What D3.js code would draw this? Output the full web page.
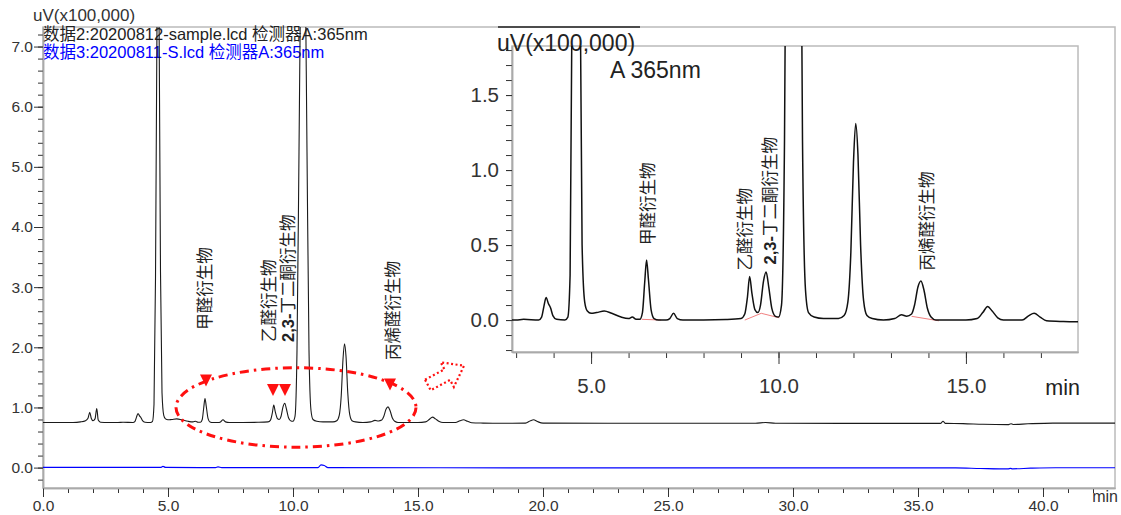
<!DOCTYPE html>
<html>
<head>
<meta charset="utf-8">
<script src="https://cdn.jsdelivr.net/npm/d3@7"></script>
<style>
  body { margin: 0; background: #fff; }
  svg { display: block; }
</style>
</head>
<body>
<div id="chart"></div>
<script>
// ---- data ----
// black trace (sample): [retention time (min), signal above baseline (x100,000 uV)]
const sampleBaseline = 0.75;
const sampleTrace = [
  [0.0, 0.0], [1.2, 0.0], [1.5, 0.01], [1.7, 0.03], [1.8, 0.07], [1.87, 0.17], [1.93, 0.07],
  [2.0, 0.03], [2.08, 0.06], [2.15, 0.23], [2.21, 0.04], [2.3, 0.005], [2.6, 0.0], [3.0, 0.0],
  [3.2, 0.005], [3.6, 0.0], [3.68, 0.02], [3.74, 0.09], [3.8, 0.15], [3.86, 0.11], [3.92, 0.08],
  [3.98, 0.03], [4.08, 0.005], [4.3, 0.0], [4.38, 0.02], [4.44, 0.3], [4.5, 2.4], [4.55, 6.0],
  [4.6, 8.2], [4.65, 6.2], [4.7, 2.5], [4.76, 0.5], [4.83, 0.12], [4.9, 0.06], [5.0, 0.045],
  [5.15, 0.05], [5.35, 0.06], [5.55, 0.045], [5.8, 0.02], [6.0, 0.01], [6.1, 0.02], [6.2, 0.005],
  [6.3, 0.005], [6.37, 0.05], [6.43, 0.25], [6.48, 0.40], [6.53, 0.27], [6.6, 0.07], [6.68, 0.01],
  [6.8, 0.0], [7.0, 0.0], [7.1, 0.01], [7.2, 0.045], [7.3, 0.01], [7.45, 0.0], [8.0, 0.0],
  [8.6, 0.003], [9.0, 0.01], [9.1, 0.04], [9.17, 0.15], [9.23, 0.29], [9.29, 0.18], [9.37, 0.07],
  [9.45, 0.05], [9.52, 0.1], [9.6, 0.26], [9.67, 0.32], [9.74, 0.22], [9.82, 0.08], [9.92, 0.025],
  [10.0, 0.02], [10.08, 0.1], [10.16, 1.2], [10.24, 4.5], [10.32, 8.0], [10.4, 9.5], [10.48, 8.0],
  [10.56, 4.5], [10.64, 1.2], [10.72, 0.2], [10.8, 0.05], [10.95, 0.02], [11.2, 0.01], [11.6, 0.01],
  [11.75, 0.03], [11.85, 0.12], [11.93, 0.45], [12.0, 1.05], [12.06, 1.31], [12.12, 1.1],
  [12.19, 0.5], [12.27, 0.13], [12.36, 0.03], [12.5, 0.01], [12.8, 0.0], [13.1, 0.01],
  [13.28, 0.035], [13.42, 0.025], [13.55, 0.04], [13.63, 0.1], [13.72, 0.22], [13.8, 0.26],
  [13.88, 0.2], [13.97, 0.08], [14.07, 0.02], [14.2, 0.0], [15.0, 0.0], [15.3, 0.01],
  [15.45, 0.05], [15.58, 0.09], [15.7, 0.06], [15.85, 0.015], [16.0, 0.0], [16.5, 0.0],
  [16.68, 0.03], [16.82, 0.045], [16.98, 0.02], [17.15, -0.005], [17.6, -0.01], [18.0, -0.012],
  [19.3, -0.01], [19.5, 0.03], [19.62, 0.045], [19.78, 0.015], [20.0, -0.01], [25.0, -0.012],
  [28.5, -0.012], [28.9, 0.0], [29.3, -0.012], [32.0, -0.015], [35.9, -0.015], [36.0, 0.02],
  [36.1, -0.015], [36.8, -0.018], [37.6, -0.03], [38.6, -0.035], [38.72, -0.02], [38.8, -0.033],
  [39.4, -0.022], [40.4, -0.01], [42.9, -0.01]
];
// blue trace (standard), absolute values
const standardTrace = [
  [0, 0.005], [4.7, 0.003], [4.8, 0.02], [4.9, 0.005], [6.9, 0.0], [7.0, 0.012], [7.15, 0.0],
  [11.0, 0.0], [11.12, 0.045], [11.25, 0.035], [11.4, 0.0], [20, -0.004], [30, -0.006],
  [36.5, -0.006], [37.5, -0.015], [38.6, -0.022], [38.7, -0.012], [38.78, -0.02], [39.5, -0.01],
  [40.5, -0.002], [42.9, -0.002]
];
// integration baselines shown in the zoomed view
const integrationLines = [
  [[6.35, 0.005], [6.87, 0.0]],
  [[9.1, 0.0], [9.54, 0.045], [10.02, 0.015]],
  [[13.55, 0.025], [14.28, -0.005]]
];

const legendTexts = ['数据2:20200812-sample.lcd 检测器A:365nm', '数据3:20200811-S.lcd 检测器A:365nm'];
const unitText = 'uV(x100,000)';
const mainXTicks = [0, 5, 10, 15, 20, 25, 30, 35, 40];
const mainYTicks = [0, 1, 2, 3, 4, 5, 6, 7];
const insetXTicks = [5, 10, 15];
const insetYTicks = [0, 0.5, 1.0, 1.5];

const peakNames = ['甲醛衍生物', '乙醛衍生物', '2,3-丁二酮衍生物', '丙烯醛衍生物'];
// where each name sits: [time, signal value at the bottom of the text]
const mainLabelAt = [[6.48, 2.29], [9.04, 2.09], [9.8, 2.09], [14.0, 1.79]];
const insetLabelAt = [[6.53, 0.5], [9.1, 0.33], [9.77, 0.37], [13.96, 0.33]];
// red markers in the main view
const markerAt = [[6.52, 1.45], [9.2, 1.29], [9.68, 1.29], [13.88, 1.38]];
const ellipseAt = { t: 10.12, v: 1.0, rt: 4.8, rv: 0.66 };
const arrowAt = [16.1, 1.53];

const FONT = '"Liberation Sans", Arial, "Noto Sans CJK SC", sans-serif';

const svg = d3.select('#chart').append('svg')
  .attr('width', 1121).attr('height', 515)
  .style('font-family', FONT);

// ---------- main view ----------
const m = { left: 43, right: 1115, top: 27, bottom: 488 };
const x = d3.scaleLinear().domain([0, 42.88]).range([m.left, m.right]);
const y = d3.scaleLinear().domain([-0.339, 7.325]).range([m.bottom, m.top]);

svg.append('rect')
  .attr('x', m.left).attr('y', m.top)
  .attr('width', m.right - m.left).attr('height', m.bottom - m.top)
  .attr('fill', 'none').attr('stroke', '#bbb').attr('stroke-width', 1.5);

function styleAxis(g, size) {
  g.attr('font-family', FONT).attr('font-size', size);
  g.select('.domain').attr('stroke', '#aaa').attr('stroke-width', 1.5);
  g.selectAll('.tick line').attr('stroke', '#333');
  g.selectAll('.tick text').attr('fill', '#333');
}

// minor ticks
svg.append('g')
  .attr('transform', `translate(0,${m.bottom})`)
  .call(d3.axisBottom(x).tickValues(d3.range(0, 43)).tickSize(5).tickFormat('').tickSizeOuter(0))
  .call(g => styleAxis(g, 15));
svg.append('g')
  .attr('transform', `translate(${m.left},0)`)
  .call(d3.axisLeft(y).tickValues(d3.range(-1, 37).map(d => d * 0.2)).tickSize(5).tickFormat('').tickSizeOuter(0))
  .call(g => styleAxis(g, 15));
// major ticks
svg.append('g')
  .attr('transform', `translate(0,${m.bottom})`)
  .call(d3.axisBottom(x).tickValues(mainXTicks).tickSize(9).tickPadding(3).tickFormat(d3.format('.1f')).tickSizeOuter(0))
  .call(g => styleAxis(g, 15.5));
svg.append('g')
  .attr('transform', `translate(${m.left},0)`)
  .call(d3.axisLeft(y).tickValues(mainYTicks).tickSize(9).tickPadding(1).tickFormat(d3.format('.1f')).tickSizeOuter(0))
  .call(g => styleAxis(g, 15.5));

svg.append('text').attr('x', 1118).attr('y', 502).attr('text-anchor', 'end')
  .attr('font-size', 16).attr('fill', '#333').text('min');
svg.append('text').attr('x', 33).attr('y', 21)
  .attr('font-size', 17).attr('fill', '#333').text(unitText);

svg.selectAll('.legend').data(legendTexts).join('text')
  .attr('class', 'legend')
  .attr('x', m.left).attr('y', (d, i) => 40 + i * 17.5)
  .attr('font-size', 16.5)
  .attr('fill', (d, i) => i === 0 ? '#222' : '#0000ff')
  .text(d => d);

svg.append('clipPath').attr('id', 'clip-main').append('rect')
  .attr('x', m.left).attr('y', m.top).attr('width', m.right - m.left).attr('height', m.bottom - m.top);

const mainLine = d3.line().x(d => x(d[0])).y(d => y(d[1] + sampleBaseline)).curve(d3.curveMonotoneX);
const stdLine = d3.line().x(d => x(d[0])).y(d => y(d[1])).curve(d3.curveMonotoneX);

const plot = svg.append('g').attr('clip-path', 'url(#clip-main)');
plot.append('path').datum(standardTrace).attr('d', stdLine)
  .attr('fill', 'none').attr('stroke', '#0000ff').attr('stroke-width', 1.2);
plot.append('path').datum(sampleTrace).attr('d', mainLine)
  .attr('fill', 'none').attr('stroke', '#1a1a1a').attr('stroke-width', 1.1);

function addPeakLabels(g, xs, ys, pos, size) {
  pos.forEach(([t, v], i) => {
    const txt = g.append('text')
      .attr('transform', `translate(${xs(t)},${ys(v)}) rotate(-90)`)
      .attr('dominant-baseline', 'central')
      .attr('font-size', size).attr('fill', '#222');
    const name = peakNames[i];
    if (name.startsWith('2,3-')) {
      txt.append('tspan').attr('font-weight', 'bold').text('2,3-');
      txt.append('tspan').text(name.slice(4));
    } else {
      txt.text(name);
    }
  });
}
addPeakLabels(svg, x, y, mainLabelAt, 16.5);

// red annotations
const red = '#ff1010';
svg.append('ellipse')
  .attr('cx', x(ellipseAt.t)).attr('cy', y(ellipseAt.v))
  .attr('rx', x(ellipseAt.t + ellipseAt.rt) - x(ellipseAt.t))
  .attr('ry', y(ellipseAt.v) - y(ellipseAt.v + ellipseAt.rv))
  .attr('fill', 'none').attr('stroke', red).attr('stroke-width', 3)
  .attr('stroke-dasharray', '9,5,2.5,5');

svg.selectAll('.marker').data(markerAt).join('path')
  .attr('class', 'marker')
  .attr('transform', d => `translate(${x(d[0])},${y(d[1])})`)
  .attr('d', 'M-6,-6L6,-6L0,6Z')
  .attr('fill', red);

svg.append('path')
  .attr('transform', `translate(${x(arrowAt[0])},${y(arrowAt[1])}) rotate(-28)`)
  .attr('d', 'M-20,-6L2,-6L2,-14L21,0L2,14L2,6L-20,6Z')
  .attr('fill', 'none').attr('stroke', red).attr('stroke-width', 2.2)
  .attr('stroke-dasharray', '2,2.5');

// ---------- zoomed view ----------
const n = { left: 512, right: 1078, top: 46, bottom: 352 };
const xi = d3.scaleLinear().domain([2.89, 17.99]).range([n.left, n.right]);
const yi = d3.scaleLinear().domain([-0.213, 1.827]).range([n.bottom, n.top]);

svg.append('rect').attr('x', 466).attr('y', 28).attr('width', 647).attr('height', 372).attr('fill', '#fff');
svg.append('line').attr('x1', 498).attr('x2', 640).attr('y1', 27).attr('y2', 27)
  .attr('stroke', '#222').attr('stroke-width', 1.5);

svg.append('rect')
  .attr('x', n.left).attr('y', n.top)
  .attr('width', n.right - n.left).attr('height', n.bottom - n.top)
  .attr('fill', 'none').attr('stroke', '#bbb').attr('stroke-width', 1.5);

svg.append('g')
  .attr('transform', `translate(0,${n.bottom})`)
  .call(d3.axisBottom(xi).tickValues(d3.range(3, 18)).tickSize(6).tickFormat('').tickSizeOuter(0))
  .call(g => styleAxis(g, 20));
svg.append('g')
  .attr('transform', `translate(0,${n.bottom})`)
  .call(d3.axisBottom(xi).tickValues(insetXTicks).tickSize(12).tickPadding(14).tickFormat(d3.format('.1f')).tickSizeOuter(0))
  .call(g => styleAxis(g, 20.5));
svg.append('g')
  .attr('transform', `translate(${n.left},0)`)
  .call(d3.axisLeft(yi).tickValues(d3.range(-2, 19).map(d => d * 0.1)).tickSize(6).tickFormat('').tickSizeOuter(0))
  .call(g => styleAxis(g, 20));
svg.append('g')
  .attr('transform', `translate(${n.left},0)`)
  .call(d3.axisLeft(yi).tickValues(insetYTicks).tickSize(6).tickPadding(7).tickFormat(d3.format('.1f')).tickSizeOuter(0))
  .call(g => styleAxis(g, 20.5));

svg.append('text').attr('x', 1080).attr('y', 395).attr('text-anchor', 'end')
  .attr('font-size', 21.5).attr('fill', '#222').text('min');
svg.append('text').attr('x', 497).attr('y', 51)
  .attr('font-size', 23).attr('fill', '#222').text(unitText);
svg.append('text').attr('x', 610).attr('y', 78)
  .attr('font-size', 23).attr('fill', '#222').text('A 365nm');

svg.append('clipPath').attr('id', 'clip-inset').append('rect')
  .attr('x', n.left).attr('y', n.top).attr('width', n.right - n.left).attr('height', n.bottom - n.top);

const insetLine = d3.line().x(d => xi(d[0])).y(d => yi(d[1])).curve(d3.curveMonotoneX);
const inset = svg.append('g').attr('clip-path', 'url(#clip-inset)');
inset.selectAll('.integ').data(integrationLines).join('path')
  .attr('class', 'integ').attr('d', d3.line().x(d => xi(d[0])).y(d => yi(d[1])))
  .attr('fill', 'none').attr('stroke', '#f08080').attr('stroke-width', 1);
inset.append('path').datum(sampleTrace.filter(d => d[0] >= 2.5 && d[0] <= 18.5)).attr('d', insetLine)
  .attr('fill', 'none').attr('stroke', '#111').attr('stroke-width', 1.5);

addPeakLabels(svg, xi, yi, insetLabelAt, 16.5);
</script>
</body>
</html>
